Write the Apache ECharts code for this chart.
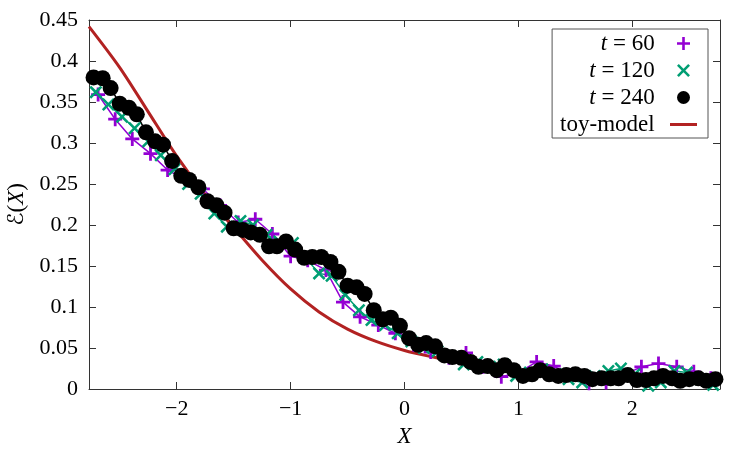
<!DOCTYPE html>
<html>
<head>
<meta charset="utf-8">
<script src="https://cdn.jsdelivr.net/npm/echarts@6/dist/echarts.min.js"></script>
<style>
  html, body { margin: 0; padding: 0; background: #fff; }
  #chart { width: 750px; height: 450px; }
</style>
</head>
<body>
<div id="chart"></div>
<script>
// tick positions
const xTicks = [-2, -1, 0, 1, 2];

// t = 60 (36 bins)
const x60 = [-2.69, -2.54, -2.39, -2.23, -2.08, -1.92, -1.77, -1.62, -1.46, -1.31, -1.16, -1.00,
  -0.85, -0.69, -0.54, -0.39, -0.23, -0.08, 0.08, 0.23, 0.39, 0.54, 0.69, 0.85,
  1.00, 1.16, 1.31, 1.46, 1.62, 1.77, 1.92, 2.08, 2.23, 2.39, 2.54, 2.69];
const y60 = [0.359, 0.329, 0.305, 0.287, 0.267, 0.255, 0.244, 0.224, 0.203, 0.207, 0.189, 0.162,
  0.157, 0.145, 0.106, 0.088, 0.078, 0.068, 0.054, 0.045, 0.038, 0.044, 0.027, 0.015,
  0.020, 0.033, 0.028, 0.017, 0.007, 0.008, 0.017, 0.027, 0.031, 0.027, 0.021, 0.013];

// t = 120 (48 bins)
const x120 = [-2.71, -2.60, -2.48, -2.37, -2.25, -2.14, -2.02, -1.90, -1.79, -1.67, -1.56, -1.44,
  -1.33, -1.21, -1.10, -0.98, -0.87, -0.75, -0.64, -0.52, -0.40, -0.29, -0.17, -0.06,
  0.06, 0.17, 0.29, 0.40, 0.52, 0.64, 0.75, 0.87, 0.98, 1.10, 1.21, 1.33,
  1.44, 1.56, 1.67, 1.79, 1.90, 2.02, 2.14, 2.25, 2.37, 2.48, 2.60, 2.71];
const y120 = [0.362, 0.347, 0.332, 0.318, 0.302, 0.285, 0.268, 0.250, 0.238, 0.214, 0.198, 0.205,
  0.200, 0.188, 0.180, 0.178, 0.160, 0.141, 0.138, 0.115, 0.096, 0.084, 0.078, 0.068,
  0.058, 0.050, 0.046, 0.040, 0.030, 0.033, 0.027, 0.030, 0.016, 0.020, 0.024, 0.018,
  0.012, 0.008, 0.016, 0.022, 0.025, 0.018, 0.004, 0.008, 0.022, 0.020, 0.012, 0.005];

// t = 240 (72 bins)
const x240 = [-2.73, -2.65, -2.58, -2.50, -2.42, -2.35, -2.27, -2.19, -2.12, -2.04,
  -1.96, -1.89, -1.81, -1.73, -1.65, -1.58, -1.50, -1.42, -1.35, -1.27,
  -1.19, -1.12, -1.04, -0.96, -0.88, -0.81, -0.73, -0.65, -0.58, -0.50,
  -0.42, -0.35, -0.27, -0.19, -0.12, -0.04, 0.04, 0.12, 0.19, 0.27,
  0.35, 0.42, 0.50, 0.58, 0.65, 0.73, 0.81, 0.88, 0.96, 1.04,
  1.12, 1.19, 1.27, 1.35, 1.42, 1.50, 1.58, 1.65, 1.73, 1.81,
  1.88, 1.96, 2.04, 2.12, 2.19, 2.27, 2.35, 2.42, 2.50, 2.58, 2.65, 2.73];
const y240 = [0.380, 0.379, 0.367, 0.348, 0.343, 0.335, 0.313, 0.302, 0.298, 0.278,
  0.260, 0.255, 0.246, 0.229, 0.224, 0.215, 0.196, 0.194, 0.191, 0.188,
  0.174, 0.174, 0.180, 0.170, 0.160, 0.161, 0.161, 0.155, 0.143, 0.126,
  0.124, 0.116, 0.096, 0.085, 0.087, 0.077, 0.062, 0.054, 0.056, 0.052,
  0.041, 0.039, 0.038, 0.033, 0.027, 0.028, 0.023, 0.029, 0.023, 0.016,
  0.018, 0.023, 0.018, 0.016, 0.017, 0.018, 0.016, 0.012, 0.013, 0.013,
  0.013, 0.017, 0.011, 0.011, 0.013, 0.016, 0.013, 0.010, 0.012, 0.013, 0.010, 0.012];

// toy-model curve
const xToy = [-2.77, -2.5, -2.25, -2.0, -1.75, -1.5, -1.25, -1.0, -0.75, -0.5, -0.25, 0.0,
  0.25, 0.5, 0.75, 1.0, 1.25, 1.5, 1.75, 2.0, 2.25, 2.5, 2.77];
const yToy = [0.442, 0.392, 0.338, 0.284, 0.237, 0.197, 0.157, 0.122, 0.094, 0.073, 0.058, 0.047,
  0.039, 0.032, 0.026, 0.021, 0.018, 0.015, 0.013, 0.012, 0.011, 0.010, 0.0095];

const pairs = (xs, ys) => xs.map((x, i) => [x, ys[i]]);

const FONT = '"Liberation Serif", "DejaVu Serif", serif';
const PLUS = 'path://M4,0H6V4H10V6H6V10H4V6H0V4H4Z';
const CROSS = 'path://M0,1.4L1.4,0L5,3.6L8.6,0L10,1.4L6.4,5L10,8.6L8.6,10L5,6.4L1.4,10L0,8.6L3.6,5Z';
const DASH = 'path://M0,0H27V3H0Z';
const AXIS_COLOR = '#333';

const chart = echarts.init(document.getElementById('chart'));

const fmtX = v => (v < 0 ? '\u2212' + Math.abs(v) : String(v));
const fmtY = v => (v === 0 ? '0' : String(+v.toFixed(2)));

const baseAxis = {
  axisLine: { show: true, onZero: false, lineStyle: { color: AXIS_COLOR, width: 1 } },
  splitLine: { show: false },
};

const option = {
  animation: false,
  backgroundColor: '#fff',
  grid: { left: 89, right: 30, top: 20, bottom: 61, outerBoundsMode: 'none', containLabel: false },
  xAxis: [
    {
      ...baseAxis,
      type: 'value',
      min: -2.77,
      max: 2.77,
      name: 'X',
      nameLocation: 'middle',
      nameGap: 36,
      nameTextStyle: { fontFamily: FONT, fontSize: 23, fontStyle: 'italic', color: '#000' },
      axisTick: { inside: true, length: 7, customValues: xTicks, lineStyle: { color: AXIS_COLOR } },
      axisLabel: { customValues: xTicks, formatter: fmtX, fontFamily: FONT, fontSize: 22, color: '#000', margin: 9 },
    },
    {
      ...baseAxis,
      type: 'value',
      position: 'top',
      min: -2.77,
      max: 2.77,
      axisTick: { inside: true, length: 7, customValues: xTicks, lineStyle: { color: AXIS_COLOR } },
      axisLabel: { show: false },
    },
  ],
  yAxis: [
    {
      ...baseAxis,
      type: 'value',
      min: 0,
      max: 0.45,
      interval: 0.05,
      name: '{c|\u2130}{n|(}{i|X}{n|)}',
      nameLocation: 'middle',
      nameGap: 60,
      nameTextStyle: {
        rich: {
          c: { fontFamily: '"DejaVu Sans", sans-serif', fontSize: 22, color: '#000' },
          n: { fontFamily: FONT, fontSize: 23, color: '#000' },
          i: { fontFamily: FONT, fontSize: 23, fontStyle: 'italic', color: '#000' },
        },
      },
      axisTick: { inside: true, length: 7, lineStyle: { color: AXIS_COLOR } },
      axisLabel: { formatter: fmtY, fontFamily: FONT, fontSize: 22, color: '#000', margin: 11 },
    },
    {
      ...baseAxis,
      type: 'value',
      position: 'right',
      min: 0,
      max: 0.45,
      interval: 0.05,
      axisTick: { inside: true, length: 7, lineStyle: { color: AXIS_COLOR } },
      axisLabel: { show: false },
    },
  ],
  legend: {
    orient: 'vertical',
    align: 'right',
    right: 42,
    top: 29,
    itemWidth: 27,
    itemHeight: 13,
    itemGap: 4,
    padding: [3, 11, 2, 8],
    borderColor: '#555',
    borderWidth: 1,
    borderRadius: 0,
    backgroundColor: '#fff',
    data: [
      { name: 't = 60', icon: PLUS },
      { name: 't = 120', icon: CROSS },
      { name: 't = 240', icon: 'circle' },
      { name: 'toy-model', icon: DASH },
    ],
    formatter: name => (name[0] === 't' && name[1] === ' '
      ? '{i|t}{n|' + name.slice(1) + ' \u2009}'
      : '{n|' + name + ' \u2009}'),
    textStyle: {
      fontFamily: FONT,
      fontSize: 23,
      color: '#000',
      rich: {
        i: { fontFamily: FONT, fontSize: 23, fontStyle: 'italic', color: '#000' },
        n: { fontFamily: FONT, fontSize: 23, color: '#000' },
      },
    },
  },
  series: [
    {
      name: 't = 60',
      type: 'line',
      data: pairs(x60, y60),
      symbol: PLUS,
      symbolSize: 14,
      showAllSymbol: true,
      color: '#9400D3',
      itemStyle: { color: '#9400D3', borderWidth: 0 },
      lineStyle: { color: '#9400D3', width: 1.5 },
    },
    {
      name: 't = 120',
      type: 'line',
      data: pairs(x120, y120),
      symbol: CROSS,
      symbolSize: 13,
      showAllSymbol: true,
      color: '#009E73',
      itemStyle: { color: '#009E73', borderWidth: 0 },
      lineStyle: { color: '#009E73', width: 1.5 },
    },
    {
      name: 't = 240',
      type: 'line',
      data: pairs(x240, y240),
      symbol: 'circle',
      symbolSize: 16,
      showAllSymbol: true,
      color: '#000',
      itemStyle: { color: '#000', borderWidth: 0 },
      lineStyle: { color: '#000', width: 1.5 },
    },
    {
      name: 'toy-model',
      type: 'line',
      data: pairs(xToy, yToy),
      symbol: 'none',
      smooth: 0.3,
      color: '#B22222',
      lineStyle: { color: '#B22222', width: 3 },
    },
  ],
};

chart.setOption(option);
</script>
</body>
</html>
